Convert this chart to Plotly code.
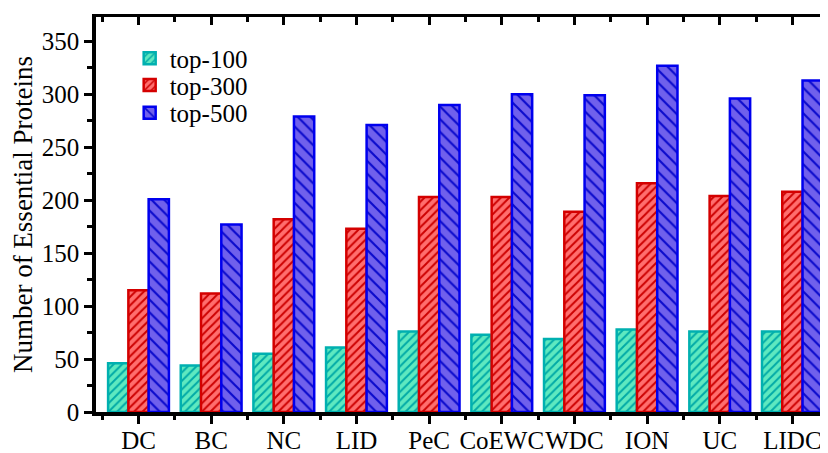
import plotly.graph_objects as go

categories = ["DC", "BC", "NC", "LID", "PeC", "CoEWC", "WDC", "ION", "UC", "LIDC"]
top100 = [46, 44, 55, 61, 76, 73, 69, 78, 76, 76]
top300 = [115, 112, 182, 173, 203, 203, 189, 216, 204, 208]
top500 = [201, 177, 279, 271, 290, 300, 299, 327, 296, 313]
series_names = ["top-100", "top-300", "top-500"]
y_ticks = [0, 50, 100, 150, 200, 250, 300, 350]

x_pos = list(range(len(categories)))
FONT = "Liberation Serif"

styles = [
    dict(fill="#5EE9C0", hatch="#00A9A6", line="#00B0B0", shape="/", size=6, sol=0.32),
    dict(fill="#FF6E6E", hatch="#CC0000", line="#D40000", shape="/", size=6, sol=0.32),
    dict(fill="#7060EC", hatch="#0A0ACC", line="#0000EE", shape="\\", size=9, sol=0.24),
]
legend_ids = ["legend", "legend2", "legend3"]
legend_y = [0.895, 0.827, 0.757]

fig = go.Figure()
for name, vals, st, lg in zip(series_names, [top100, top300, top500], styles, legend_ids):
    fig.add_trace(go.Bar(
        x=x_pos, y=vals, name=name, legend=lg,
        marker=dict(
            color=st["fill"],
            line=dict(color=st["line"], width=2.5),
            pattern=dict(shape=st["shape"], fgcolor=st["hatch"], bgcolor=st["fill"],
                         size=st["size"], solidity=st["sol"], fillmode="replace"),
        ),
    ))

xr = [-0.585, 9.49]
minor_x = [i - 0.5 for i in range(len(categories) + 1)]
minor_y = [v + 25 for v in y_ticks]

legend_common = dict(x=0.046, xanchor="left", yanchor="middle",
                     bgcolor="rgba(0,0,0,0)",
                     font=dict(family=FONT, size=25, color="black"))

# the page body has an 8px default margin; the figure is sized to compensate
fig.update_layout(
    width=820, height=445,
    margin=dict(l=88, r=0, t=9, b=41),
    paper_bgcolor="white", plot_bgcolor="white",
    barmode="group", bargap=0.163, bargroupgap=0,
    font=dict(family=FONT, size=25, color="black"),
    showlegend=True,
    legend=dict(y=legend_y[0], **legend_common),
    legend2=dict(y=legend_y[1], **legend_common),
    legend3=dict(y=legend_y[2], **legend_common),
    xaxis=dict(
        range=xr, tickmode="array", tickvals=x_pos, ticktext=categories,
        automargin=False, tickangle=0,
        showline=True, linecolor="black", linewidth=3.5,
        ticks="outside", ticklen=8, tickwidth=2.5, tickcolor="black",
        showgrid=False, zeroline=False, ticklabelstandoff=-5,
        tickfont=dict(family=FONT, size=25, color="black"),
        minor=dict(tickmode="array", tickvals=minor_x, ticks="outside", ticklen=4,
                   tickwidth=2.5, tickcolor="black", showgrid=False),
    ),
    xaxis2=dict(
        range=xr, overlaying="x", side="top", anchor="y", automargin=False,
        tickmode="array", tickvals=x_pos, showticklabels=False,
        showline=True, linecolor="black", linewidth=3,
        ticks="inside", ticklen=8, tickwidth=2.5, tickcolor="black",
        showgrid=False, zeroline=False,
        minor=dict(tickmode="array", tickvals=minor_x, ticks="inside", ticklen=5,
                   tickwidth=2.5, tickcolor="black", showgrid=False),
    ),
    yaxis=dict(
        range=[0, 373], tickmode="array", tickvals=y_ticks, automargin=False,
        showline=True, linecolor="black", linewidth=3.5,
        ticks="outside", ticklen=8, tickwidth=2.5, tickcolor="black",
        showgrid=False, zeroline=False,
        tickfont=dict(family=FONT, size=25, color="black"),
        title=dict(text="Number of Essential Proteins", standoff=11,
                   font=dict(family=FONT, size=27, color="black")),
        minor=dict(tickmode="array", tickvals=minor_y, ticks="outside", ticklen=5,
                   tickwidth=2.5, tickcolor="black", showgrid=False),
    ),
)

# invisible helper trace so the top axis is drawn
fig.add_trace(go.Scatter(x=[xr[0]], y=[0], xaxis="x2", yaxis="y", mode="markers",
                         marker=dict(opacity=0), showlegend=False, hoverinfo="skip"))

fig.write_html("out.html")
